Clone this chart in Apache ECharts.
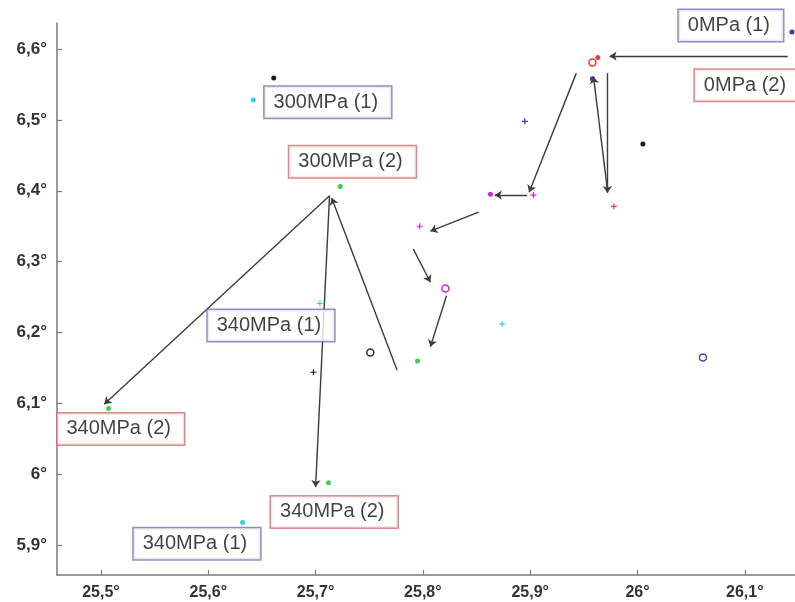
<!DOCTYPE html>
<html>
<head>
<meta charset="utf-8">
<script src="https://cdn.jsdelivr.net/npm/echarts@6/dist/echarts.min.js"></script>
<style>
  html, body { margin: 0; padding: 0; background: #fff; }
  #chart { width: 795px; height: 602px; }
</style>
</head>
<body>
<div id="chart"></div>
<script>
// Tick positions (degrees)
const xTicks = [25.5, 25.6, 25.7, 25.8, 25.9, 26.0, 26.1];
const yTicks = [5.9, 6.0, 6.1, 6.2, 6.3, 6.4, 6.5, 6.6];

// Measured points [x°, y°], grouped by colour and marker
const dotsBlack   = [[26.005, 6.466], [25.661, 6.559]];
const dotsGreen   = [[25.795, 6.160], [25.723, 6.406], [25.507, 6.093], [25.712, 5.988]];
const dotsCyan    = [[25.642, 6.528], [25.632, 5.932]];
const dotsMagenta = [[25.863, 6.395]];
const dotsRed     = [[25.963, 6.588]];
const dotsBlue    = [[26.144, 6.624], [25.958, 6.558]];
const plusBlack   = [[25.698, 6.144]];
const plusCyan    = [[25.874, 6.212], [25.704, 6.241]];
const plusMagenta = [[25.903, 6.394], [25.797, 6.350]];
const plusRed     = [[25.978, 6.378]];
const plusBlue    = [[25.895, 6.498]];
const ringsBlack  = [[25.751, 6.172]];
const ringsRed    = [[25.958, 6.581]];
const ringsMagenta= [[25.821, 6.262]];
const ringsBlue   = [[26.061, 6.165]];

// Arrows: [from, to], head drawn at "to"
const arrows = [
  [[26.140, 6.590], [25.974, 6.590]],
  [[25.943, 6.566], [25.899, 6.398]],
  [[25.897, 6.394], [25.867, 6.394]],
  [[25.972, 6.566], [25.972, 6.397]],
  [[25.972, 6.401], [25.959, 6.561]],
  [[25.852, 6.370], [25.807, 6.343]],
  [[25.791, 6.318], [25.807, 6.271]],
  [[25.822, 6.252], [25.807, 6.180]],
  [[25.713, 6.393], [25.503, 6.099]],
  [[25.713, 6.393], [25.700, 5.982]],
  [[25.776, 6.147], [25.715, 6.390]]
];

// Boxed captions, anchored at their left edge
const notes = [
  { text: '0MPa (1)',   at: [26.038, 6.633], kind: 1 },
  { text: '0MPa (2)',   at: [26.053, 6.549], kind: 2 },
  { text: '300MPa (1)', at: [25.652, 6.525], kind: 1 },
  { text: '300MPa (2)', at: [25.675, 6.441], kind: 2 },
  { text: '340MPa (1)', at: [25.599, 6.210], kind: 1 },
  { text: '340MPa (2)', at: [25.459, 6.064], kind: 2 },
  { text: '340MPa (2)', at: [25.658, 5.947], kind: 2 },
  { text: '340MPa (1)', at: [25.530, 5.902], kind: 1 }
];

const COL = {
  black: '#1a1a1a', green: '#3ad24a', cyan: '#2fd3e0', magenta: '#d42ad0',
  red: '#e0403a', blue: '#3a3aa0'
};
const PLUS = 'path://M4,0H6V4H10V6H6V10H4V6H0V4H4Z';

function fmtDeg(v) {
  const r = Math.round(v * 10) / 10;
  const s = Number.isInteger(r) ? String(r) : r.toFixed(1).replace('.', ',');
  return s + '°';
}

function pts(name, data, color, kind) {
  const s = { name, type: 'scatter', data, z: 5, silent: true };
  if (kind === 'dot') {
    s.symbol = 'circle'; s.symbolSize = 5;
    s.itemStyle = { color, opacity: 1 };
  } else if (kind === 'plus') {
    s.symbol = PLUS; s.symbolSize = 6;
    s.itemStyle = { color, opacity: 1 };
  } else {
    s.symbol = 'circle'; s.symbolSize = 7;
    s.itemStyle = { color: '#fff', borderColor: color, borderWidth: 1.5, opacity: 1 };
  }
  return s;
}

const axisCommon = {
  type: 'value',
  axisLine: { show: true, onZero: false, lineStyle: { color: '#7a7a7a', width: 1.5 } },
  axisTick: { show: true, inside: true, length: 5, lineStyle: { color: '#7a7a7a', width: 1.2 } },
  splitLine: { show: false },
  axisLabel: {
    formatter: fmtDeg, color: '#333', fontWeight: 'bold', fontSize: 16,
    fontFamily: 'Liberation Sans, Arial, sans-serif'
  }
};

const chart = echarts.init(document.getElementById('chart'), null, { renderer: 'canvas' });
chart.setOption({
  animation: false,
  backgroundColor: '#fff',
  grid: { left: 57, right: 0, top: 23, bottom: 27, containLabel: false },
  xAxis: Object.assign({}, axisCommon, {
    min: 25.459, max: 26.1468,
    axisTick: Object.assign({}, axisCommon.axisTick, { customValues: xTicks }),
    axisLabel: Object.assign({}, axisCommon.axisLabel, { customValues: xTicks, margin: 10 })
  }),
  yAxis: Object.assign({}, axisCommon, {
    min: 5.858, max: 6.6367,
    axisTick: Object.assign({}, axisCommon.axisTick, { customValues: yTicks }),
    axisLabel: Object.assign({}, axisCommon.axisLabel, { customValues: yTicks, margin: 10, fontSize: 17 })
  }),
  series: [
    {
      name: 'arrows', type: 'scatter', data: [], z: 3, silent: true,
      markLine: {
        silent: true,
        symbol: ['none', 'arrow'],
        symbolSize: 7,
        label: { show: false },
        lineStyle: { color: '#3c3c3c', width: 1.4, type: 'solid' },
        emphasis: { disabled: true },
        data: arrows.map(a => [{ coord: a[0] }, { coord: a[1] }])
      }
    },
    pts('dotsBlack', dotsBlack, COL.black, 'dot'),
    pts('dotsGreen', dotsGreen, COL.green, 'dot'),
    pts('dotsCyan', dotsCyan, COL.cyan, 'dot'),
    pts('dotsMagenta', dotsMagenta, COL.magenta, 'dot'),
    pts('dotsRed', dotsRed, COL.red, 'dot'),
    pts('dotsBlue', dotsBlue, COL.blue, 'dot'),
    pts('plusBlack', plusBlack, COL.black, 'plus'),
    pts('plusCyan', plusCyan, COL.cyan, 'plus'),
    pts('plusMagenta', plusMagenta, COL.magenta, 'plus'),
    pts('plusRed', plusRed, COL.red, 'plus'),
    pts('plusBlue', plusBlue, COL.blue, 'plus'),
    pts('ringsBlack', ringsBlack, '#333', 'ring'),
    pts('ringsRed', ringsRed, COL.red, 'ring'),
    pts('ringsMagenta', ringsMagenta, COL.magenta, 'ring'),
    pts('ringsBlue', ringsBlue, '#4a4aa8', 'ring'),
    {
      name: 'notes', type: 'scatter', z: 10, silent: true, clip: false,
      symbol: 'circle', symbolSize: 1,
      itemStyle: { color: 'rgba(0,0,0,0)' },
      data: notes.map(n => ({
        value: n.at,
        label: {
          show: true,
          position: 'right',
          distance: 0,
          formatter: n.text,
          fontSize: 20,
          fontFamily: 'Liberation Sans, Arial, sans-serif',
          color: '#111',
          backgroundColor: '#fff',
          borderColor: n.kind === 1 ? '#7474b4' : '#d26a6a',
          borderWidth: 1.5,
          padding: [6, 13, 5, 9]
        }
      }))
    }
  ]
});
</script>
</body>
</html>
